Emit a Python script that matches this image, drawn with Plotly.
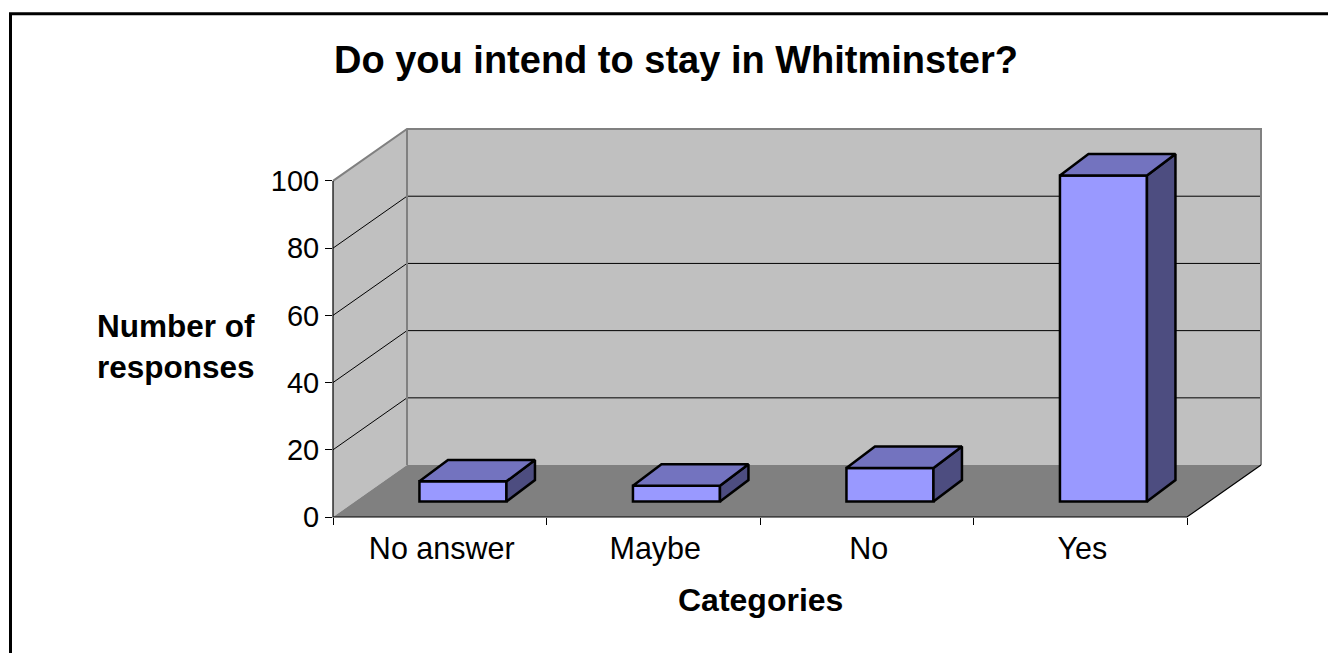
import plotly.graph_objects as go

categories = ["No answer", "Maybe", "No", "Yes"]
responses = [6, 4.7, 10, 97]
y_ticks = [0, 20, 40, 60, 80, 100]
x_bounds = [-0.5, 0.5, 1.5, 2.5, 3.5]
centres = list(range(len(categories)))

W, H = 1328, 653
L, R, T, B = 333, 1187, 181, 517.5       # front plane, pixels
BACK_PX = (74, 52)
XU = (R - L) / 4
YU = (B - T) / 100
DX, DY = BACK_PX[0] / XU, BACK_PX[1] / YU   # wall depth in data units
SHIFT_X, SHIFT_Y = 23.2 / XU, 15.5 / YU     # bar front offset into the floor
DEPTH_X, DEPTH_Y = 28.5 / XU, 21.5 / YU     # bar depth
BAR_W = 87 / XU
LABEL_NUDGE = 2 / XU

x_range = [-0.5, 3.5 + DX]
y_range = [0, 100 + DY]
PL, PR, PT, PB = L, L + (x_range[1] - x_range[0]) * XU, B - y_range[1] * YU, B


def px(v):
    return (v - x_range[0]) / (x_range[1] - x_range[0])


def py(v):
    return (v - y_range[0]) / (y_range[1] - y_range[0])


def poly(pts, fill=None, line=None, width=1.5):
    path = "M " + " L ".join(f"{px(a):.5f},{py(b):.5f}" for a, b in pts) + (" Z" if fill else "")
    return dict(type="path", xref="paper", yref="paper", layer="below", path=path,
                fillcolor=fill if fill else "rgba(0,0,0,0)",
                line=dict(color=line if line else "rgba(0,0,0,0)", width=width if line else 0))


x0, x1 = x_bounds[0], x_bounds[-1]
shapes = [
    poly([(x0 + DX, DY), (x1 + DX, DY), (x1 + DX, 100 + DY), (x0 + DX, 100 + DY)], "#C0C0C0"),
    poly([(x0, 0), (x0 + DX, DY), (x0 + DX, 100 + DY), (x0, 100)], "#C0C0C0"),
    poly([(x0, 0), (x1, 0), (x1 + DX, DY), (x0 + DX, DY)], "#808080"),
]
for t in y_ticks[1:-1]:
    shapes.append(poly([(x0, t), (x0 + DX, t + DY), (x1 + DX, t + DY)], None, "#000000", 1))
shapes += [
    poly([(x0, 100), (x0 + DX, 100 + DY), (x1 + DX, 100 + DY), (x1 + DX, DY)], None, "#808080", 2),
    poly([(x0 + DX, DY), (x0 + DX, 100 + DY)], None, "#808080", 2),
    poly([(x0, 100), (x0, 0), (x1, 0), (x1 + DX, DY)], None, "#000000", 1.2),
]
# outer frame: left and top edges only, running off the page
shapes.append(dict(type="path", xref="paper", yref="paper", layer="below",
                   path=f"M {(10.5-PL)/(PR-PL):.5f},{(PB-660)/(PB-PT):.5f} "
                        f"L {(10.5-PL)/(PR-PL):.5f},{(PB-13.5)/(PB-PT):.5f} "
                        f"L {(1335-PL)/(PR-PL):.5f},{(PB-13.5)/(PB-PT):.5f}",
                   fillcolor="rgba(0,0,0,0)", line=dict(color="#000000", width=3)))

top_x, top_y, side_x, side_y = [], [], [], []
for c, v in zip(centres, responses):
    a = c + SHIFT_X - BAR_W / 2
    b = a + BAR_W
    y0 = SHIFT_Y
    y1 = SHIFT_Y + v
    top_x += [a, b, b + DEPTH_X, a + DEPTH_X, a, None]
    top_y += [y1, y1, y1 + DEPTH_Y, y1 + DEPTH_Y, y1, None]
    side_x += [b, b + DEPTH_X, b + DEPTH_X, b, b, None]
    side_y += [y0, y0 + DEPTH_Y, y1 + DEPTH_Y, y1, y0, None]

fig = go.Figure()
fig.add_trace(go.Bar(x=[c + SHIFT_X for c in centres], y=responses, base=[SHIFT_Y] * 4, width=BAR_W,
                     marker=dict(color="#9999FF", line=dict(color="#000000", width=2.5)),
                     hoverinfo="skip", showlegend=False))
for xs, ys, col in [(side_x, side_y, "#4D4D80"), (top_x, top_y, "#7373BF")]:
    fig.add_trace(go.Scatter(x=xs, y=ys, mode="lines", fill="toself", fillcolor=col,
                             line=dict(color="#000000", width=2.5), hoverinfo="skip", showlegend=False))

FONT = "Liberation Sans"
fig.update_layout(
    width=W, height=H, autosize=False,
    margin=dict(l=PL, r=W - PR, t=PT, b=H - PB, pad=0),
    paper_bgcolor="#FFFFFF", plot_bgcolor="rgba(0,0,0,0)",
    font=dict(family=FONT, color="#000000"),
    shapes=shapes,
    title=dict(text="<b>Do you intend to stay in Whitminster?</b>", font=dict(size=38, family=FONT),
               xref="container", yref="container", x=676 / W, xanchor="center",
               y=1 - 60 / H, yanchor="middle"),
    xaxis=dict(type="linear", range=x_range, tickmode="array",
               tickvals=[c + LABEL_NUDGE for c in centres], ticktext=categories,
               ticks="", showgrid=False, zeroline=False, showline=False,
               tickfont=dict(size=30.5), ticklabelstandoff=10,
               minor=dict(tickmode="array", tickvals=x_bounds, ticks="outside", ticklen=7, tickwidth=1,
                          tickcolor="#000000", showgrid=False)),
    yaxis=dict(range=y_range, tickmode="array", tickvals=y_ticks, ticks="outside", ticklen=7, tickwidth=1,
               tickcolor="#000000", showgrid=False, zeroline=False, showline=False,
               tickfont=dict(size=29)),
    annotations=[
        dict(text="<b>Number of<br>responses</b>", xref="paper", yref="paper",
             x=(176 - PL) / (PR - PL), y=(PB - 347) / (PB - PT), showarrow=False,
             font=dict(size=31.5), align="center", xanchor="center", yanchor="middle"),
        dict(text="<b>Categories</b>", xref="paper", yref="paper",
             x=(760 - PL) / (PR - PL), y=(PB - 601) / (PB - PT), showarrow=False,
             font=dict(size=32), xanchor="center", yanchor="middle"),
    ],
)
fig.write_html("out.html", post_script="document.body.style.margin='0';",
               config={"displayModeBar": False})
